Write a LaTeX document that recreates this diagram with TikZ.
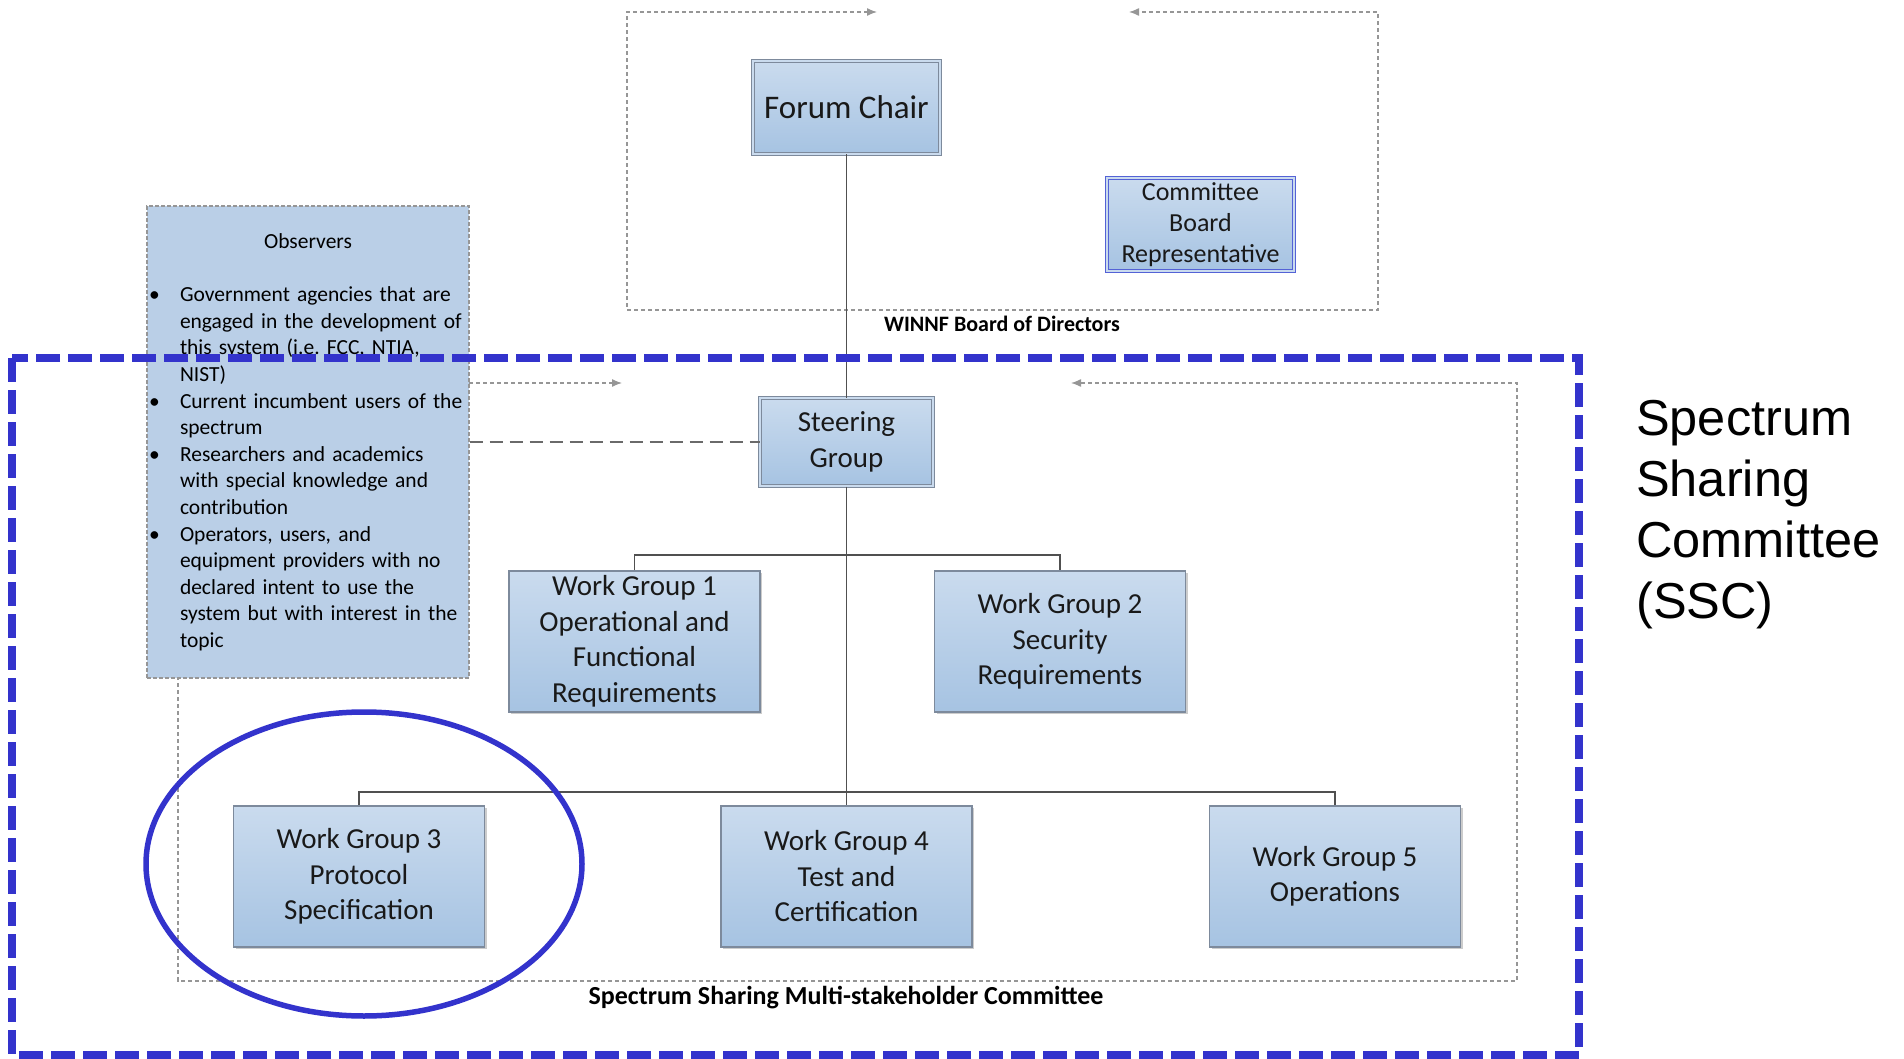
\documentclass[tikz,border=0pt]{standalone}
\usepackage{fontspec}
\setmainfont{Carlito}
\newfontfamily\sscfont{Liberation Sans}
\usepackage{enumitem}
\usepackage{tikz}
\usetikzlibrary{arrows.meta,shadows}

\definecolor{boxtop}{RGB}{202,219,238}
\definecolor{boxbot}{RGB}{166,195,226}
\definecolor{obsfill}{RGB}{186,207,231}
\definecolor{boxline}{RGB}{125,138,156}
\definecolor{framegray}{RGB}{150,150,150}
\definecolor{linkgray}{RGB}{80,80,80}
\definecolor{sscblue}{RGB}{51,51,204}
\definecolor{repblue}{RGB}{84,98,214}

\begin{document}
\begin{tikzpicture}[x=1pt,y=-1pt,
        wgbox/.style={draw=boxline,line width=1.2pt,top color=boxtop,bottom color=boxbot,
          minimum width=251,minimum height=141,align=center,text=black!90,
          font=\fontsize{29}{35.5}\selectfont,
          drop shadow={shadow xshift=2pt,shadow yshift=-2pt,opacity=0.2,fill=black}},
        headbox/.style={wgbox,double=boxtop,double distance=2.4pt,line width=1pt},
        grpframe/.style={draw=framegray,line width=1.3pt,dash pattern=on 4pt off 3pt,
          {Latex[length=10pt,width=8pt]}-{Latex[length=10pt,width=8pt]}},
        grplabel/.style={font=\bfseries\fontsize{22}{26}\selectfont},
        wglink/.style={draw=linkgray,line width=1.5pt},
        obslink/.style={draw=linkgray!85,line width=2.5pt,dash pattern=on 13pt off 7pt},
        sscline/.style={draw=sscblue,line width=8pt,dash pattern=on 24pt off 8pt},
        sscring/.style={draw=sscblue,line width=5.5pt}]
        \useasboundingbox (0,0) rectangle (1904,1059);

        \draw[grpframe] (877,12) -| (627,310) -| (1378,12) -- (1129,12);
        \draw[grpframe] (622,383) -| (178,981) -| (1517,383) -- (1071,383);

        \node[shape=rectangle,draw=framegray,line width=1.2pt,dash pattern=on 4pt off 2pt,fill=obsfill,
          minimum width=322,minimum height=472,text width=318,inner xsep=2pt,align=left,
          font=\fontsize{21.5}{26.6}\selectfont] (obs) at (308,442) {%
          {\centering Observers\par}\vspace{27pt}%
          \begin{itemize}[label=\textbullet,leftmargin=31pt,labelsep=0pt,labelwidth=31pt,labelindent=3pt,align=left,
            itemsep=0pt,topsep=0pt,parsep=0pt,partopsep=0pt]
          \item Government agencies that are\newline engaged in the development of\newline this system (i.e.\ FCC, NTIA,\newline NIST)
          \item Current incumbent users of the\newline spectrum
          \item Researchers and academics\newline with special knowledge and\newline contribution
          \item Operators, users, and\newline equipment providers with no\newline declared intent to use the\newline system but with interest in the\newline topic
          \end{itemize}};

        \node[headbox,minimum width=187,minimum height=93,font=\fontsize{33}{40}\selectfont] (fc) at (846.5,107.5) {Forum Chair};
        \node[headbox,draw=repblue,minimum width=187,minimum height=93,font=\fontsize{26}{31}\selectfont] (cbr) at (1200.5,224.5) {Committee\\Board\\Representative};
        \node[headbox,minimum width=173,minimum height=88] (sg) at (846.5,442) {Steering\\Group};

        \node[wgbox] (wg1) at (634.5,641.5) {Work Group 1\\Operational and\\Functional\\Requirements};
        \node[wgbox] (wg2) at (1060,641.5) {Work Group 2\\Security\\Requirements};
        \node[wgbox] (wg3) at (359,876.5) {Work Group 3\\Protocol\\Specification};
        \node[wgbox] (wg4) at (846.5,876.5) {Work Group 4\\Test and\\Certification};
        \node[wgbox] (wg5) at (1335,876.5) {Work Group 5\\Operations};

        \node[grplabel] (winnf) at (1002,324) {WINNF Board of Directors};
        \node[grplabel,font=\bfseries\fontsize{26}{30}\selectfont] (ssmc) at (846,998) {Spectrum Sharing Multi-stakeholder Committee};

        \coordinate (j1) at (846.5,555);
        \coordinate (j2) at (846.5,792);

	\path[wglink] (fc) edge (sg);
	\path[wglink] (sg) edge (j1);
	\path[wglink] (j1) edge (wg4);
	\draw[wglink] (wg1.north) |- (j1) -| (wg2.north);
	\draw[wglink] (wg3.north) |- (j2) -| (wg5.north);
	\path[obslink] (obs.east |- sg.west) edge (sg.west);

        \draw[sscline] (12,358) rectangle (1579,1055);
        \draw[sscring] (364,864) ellipse [x radius=218, y radius=152];

        \node[anchor=north west,inner sep=0pt,align=left,font=\sscfont\fontsize{50.5}{61}\selectfont] (ssc) at (1636,400) {Spectrum\\Sharing\\Committee\\(SSC)};
\end{tikzpicture}
\end{document}
